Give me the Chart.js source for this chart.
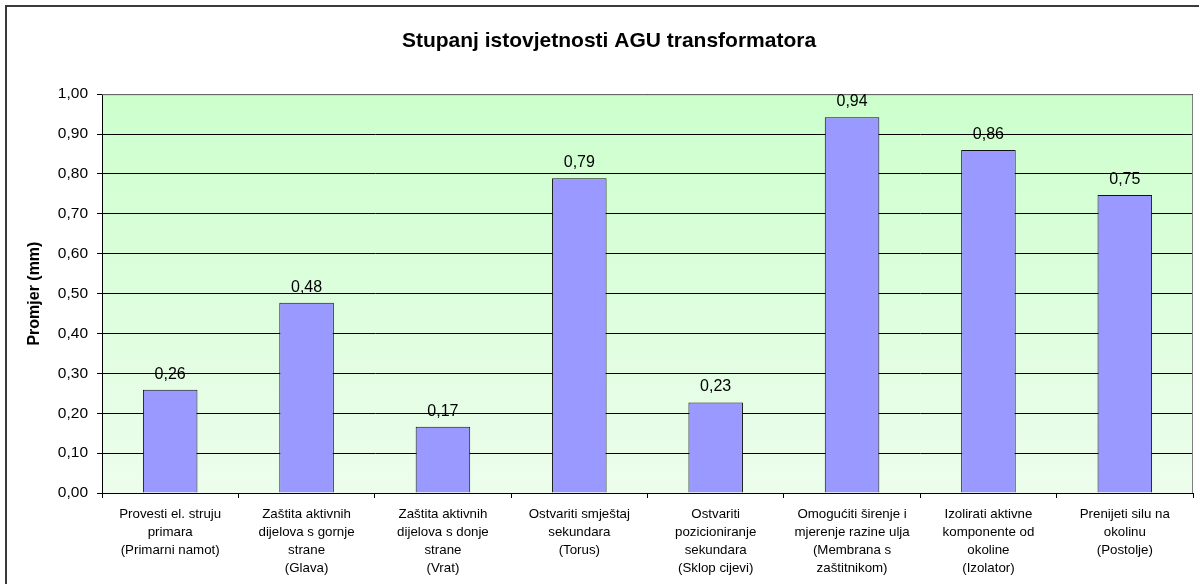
<!DOCTYPE html>
<html>
<head>
<meta charset="utf-8">
<title>Stupanj istovjetnosti AGU transformatora</title>
<script src="https://cdn.jsdelivr.net/npm/chart.js@4/dist/chart.umd.min.js"></script>
<style>
    html, body { margin: 0; padding: 0; background: #fff; overflow: hidden; }
    #chart { display: block; }
</style>
</head>
<body>
<canvas id="chart" width="1199" height="584"></canvas>
<script>
// Podaci grafa
const categories = [
    ['Provesti el. struju', 'primara', '(Primarni namot)'],
    ['Zaštita aktivnih', 'dijelova s gornje', 'strane', '(Glava)'],
    ['Zaštita aktivnih', 'dijelova s donje', 'strane', '(Vrat)'],
    ['Ostvariti smještaj', 'sekundara', '(Torus)'],
    ['Ostvariti', 'pozicioniranje', 'sekundara', '(Sklop cijevi)'],
    ['Omogućiti širenje i', 'mjerenje razine ulja', '(Membrana s', 'zaštitnikom)'],
    ['Izolirati aktivne', 'komponente od', 'okoline', '(Izolator)'],
    ['Prenijeti silu na', 'okolinu', '(Postolje)']
];
const values = [0.259, 0.477, 0.166, 0.789, 0.227, 0.942, 0.86, 0.747];
const yTickValues = [0, 0.1, 0.2, 0.3, 0.4, 0.5, 0.6, 0.7, 0.8, 0.9, 1.0];

const FONT = 'Arial, "Liberation Sans", sans-serif';

// Decimalni zarez
function fmt(v) {
    return v.toFixed(2).replace('.', ',');
}

// Okvir i gradijent pozadine
const plotBackground = {
    id: 'plotBackground',
    beforeDraw(chart) {
        const { ctx, chartArea: a } = chart;
        ctx.save();
        ctx.strokeStyle = '#3a3a3a';
        ctx.lineWidth = 2;
        ctx.strokeRect(6, 6, 1400, 1000);
        const g = ctx.createLinearGradient(0, a.top, 0, a.bottom);
        g.addColorStop(0, '#ccffcc');
        g.addColorStop(1, '#edfded');
        ctx.fillStyle = g;
        ctx.fillRect(a.left, a.top, a.right - a.left, a.bottom - a.top);
        ctx.restore();
    },
    beforeDatasetsDraw(chart) {
        // siva gornja i desna granica
        const { ctx, chartArea: a } = chart;
        ctx.save();
        ctx.strokeStyle = '#808080';
        ctx.lineWidth = 1;
        ctx.beginPath();
        ctx.moveTo(a.left, a.top + 0.5);
        ctx.lineTo(a.right - 0.5, a.top + 0.5);
        ctx.lineTo(a.right - 0.5, a.bottom);
        ctx.stroke();
        ctx.restore();
    }
};

// Vrijednosti iznad stupaca
const valueLabels = {
    id: 'valueLabels',
    afterDatasetsDraw(chart) {
        const { ctx } = chart;
        const meta = chart.getDatasetMeta(0);
        ctx.save();
        ctx.fillStyle = '#000';
        ctx.font = '16px ' + FONT;
        ctx.textAlign = 'center';
        ctx.textBaseline = 'alphabetic';
        meta.data.forEach((bar, i) => {
            ctx.fillText(fmt(chart.data.datasets[0].data[i]), bar.x, bar.y - 11);
        });
        ctx.restore();
    }
};

const ctx = document.getElementById('chart').getContext('2d');
const chart = new Chart(ctx, {
    type: 'bar',
    data: {
        labels: categories,
        datasets: [{
            data: values,
            backgroundColor: '#9999ff',
            borderColor: '#111',
            borderWidth: 1,
            barPercentage: 0.4,
            categoryPercentage: 1.0
        }]
    },
    options: {
        responsive: false,
        animation: false,
        layout: { padding: { left: 25, right: 6, top: 0, bottom: 0 } },
        plugins: {
            legend: { display: false },
            tooltip: { enabled: false },
            title: {
                display: true,
                text: 'Stupanj istovjetnosti AGU transformatora',
                color: '#000',
                font: { family: FONT, size: 21, weight: 'bold', lineHeight: 1.2 },
                padding: { top: 29, bottom: 40 }
            }
        },
        scales: {
            x: {
                afterFit: (scale) => { scale.height = 91; },
                grid: {
                    display: true,
                    drawOnChartArea: false,
                    drawTicks: true,
                    tickLength: 5,
                    color: '#000',
                    offset: true
                },
                border: { color: '#000', width: 1 },
                ticks: {
                    color: '#000',
                    font: { family: FONT, size: 13.3, lineHeight: 1.36 },
                    padding: 7,
                    maxRotation: 0,
                    autoSkip: false
                }
            },
            y: {
                min: 0,
                max: 1,
                afterFit: (scale) => { scale.width = 77; },
                afterBuildTicks: (scale) => {
                    scale.ticks = yTickValues.map(v => ({ value: v }));
                },
                grid: {
                    color: '#000',
                    lineWidth: 1,
                    tickLength: 5
                },
                border: { color: '#000', width: 1 },
                ticks: {
                    color: '#000',
                    font: { family: FONT, size: 15.5 },
                    padding: 9,
                    callback: (v) => fmt(v)
                },
                title: {
                    display: true,
                    text: 'Promjer (mm)',
                    color: '#000',
                    font: { family: FONT, size: 16, weight: 'bold', lineHeight: 1.2 },
                    padding: { top: 0, bottom: 0 }
                }
            }
        }
    },
    plugins: [plotBackground, valueLabels]
});
</script>
</body>
</html>
